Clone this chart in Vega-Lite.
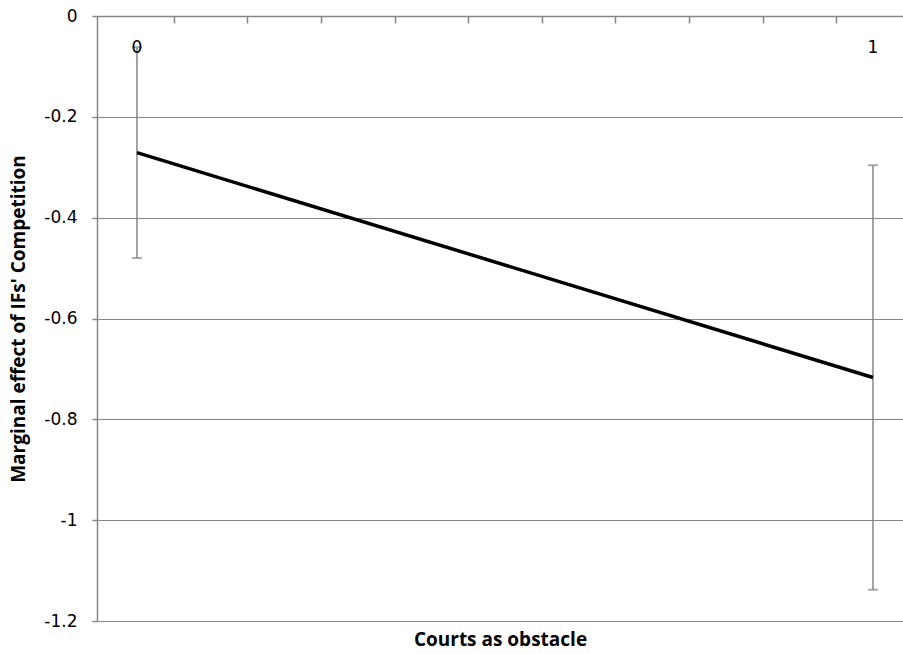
{
  "$schema": "https://vega.github.io/schema/vega-lite/v6.json",
  "width": 806,
  "height": 605,
  "autosize": {"type": "none"},
  "padding": {"left": 97, "top": 16, "right": 0, "bottom": 33},
  "background": "white",
  "config": {"view": {"stroke": null}, "font": "DejaVu Sans"},
  "data": {
    "values": [
      {"x": 0, "y": -0.271, "lo": -0.48, "hi": -0.062, "label": "0", "ly": -0.0635},
      {"x": 1, "y": -0.717, "lo": -1.138, "hi": -0.296, "label": "1", "ly": -0.0635}
    ]
  },
  "encoding": {
    "x": {
      "field": "x",
      "type": "quantitative",
      "scale": {"domain": [-0.0543, 1.0408], "nice": false, "zero": false},
      "axis": {
        "orient": "top",
        "values": [0.05, 0.15, 0.25, 0.35, 0.45, 0.55, 0.65, 0.75, 0.85, 0.95],
        "labels": false,
        "grid": false,
        "domainColor": "#868686",
        "domainWidth": 1.5,
        "tickColor": "#868686",
        "tickWidth": 1.5,
        "tickSize": -7,
        "title": "Courts as obstacle",
        "titleFont": "Open Sans",
        "titleFontWeight": "bold",
        "titleFontSize": 19,
        "titleColor": "black",
        "titleY": 623,
        "titleBaseline": "middle"
      }
    }
  },
  "layer": [
    {
      "mark": {"type": "rule", "color": "#868686", "strokeWidth": 1.5},
      "encoding": {
        "y": {
          "field": "lo",
          "type": "quantitative",
          "scale": {"domain": [-1.2, 0], "nice": false, "zero": false},
          "axis": {
            "values": [0, -0.2, -0.4, -0.6, -0.8, -1, -1.2],
            "labelExpr": "'' + datum.value",
            "grid": true,
            "gridColor": "#868686",
            "gridWidth": 1.2,
            "domainColor": "#868686",
            "domainWidth": 1.5,
            "tickColor": "#868686",
            "tickWidth": 1.5,
            "tickSize": 5,
            "labelPadding": 15,
            "labelFontSize": 17,
            "labelColor": "black",
            "title": "Marginal effect of IFs' Competition",
            "titleFont": "Open Sans",
            "titleFontWeight": "bold",
            "titleFontSize": 19,
            "titleColor": "black",
            "titlePadding": 15
          }
        },
        "y2": {"field": "hi"}
      }
    },
    {
      "mark": {"type": "tick", "orient": "horizontal", "size": 10, "thickness": 2, "color": "#868686"},
      "encoding": {"y": {"field": "lo", "type": "quantitative"}}
    },
    {
      "mark": {"type": "tick", "orient": "horizontal", "size": 10, "thickness": 2, "color": "#868686"},
      "encoding": {"y": {"field": "hi", "type": "quantitative"}}
    },
    {
      "mark": {"type": "line", "color": "black", "strokeWidth": 3.5},
      "encoding": {"y": {"field": "y", "type": "quantitative"}}
    },
    {
      "mark": {"type": "text", "fontSize": 17, "color": "black", "baseline": "middle", "align": "center"},
      "encoding": {
        "y": {"field": "ly", "type": "quantitative"},
        "text": {"field": "label"}
      }
    }
  ]
}
